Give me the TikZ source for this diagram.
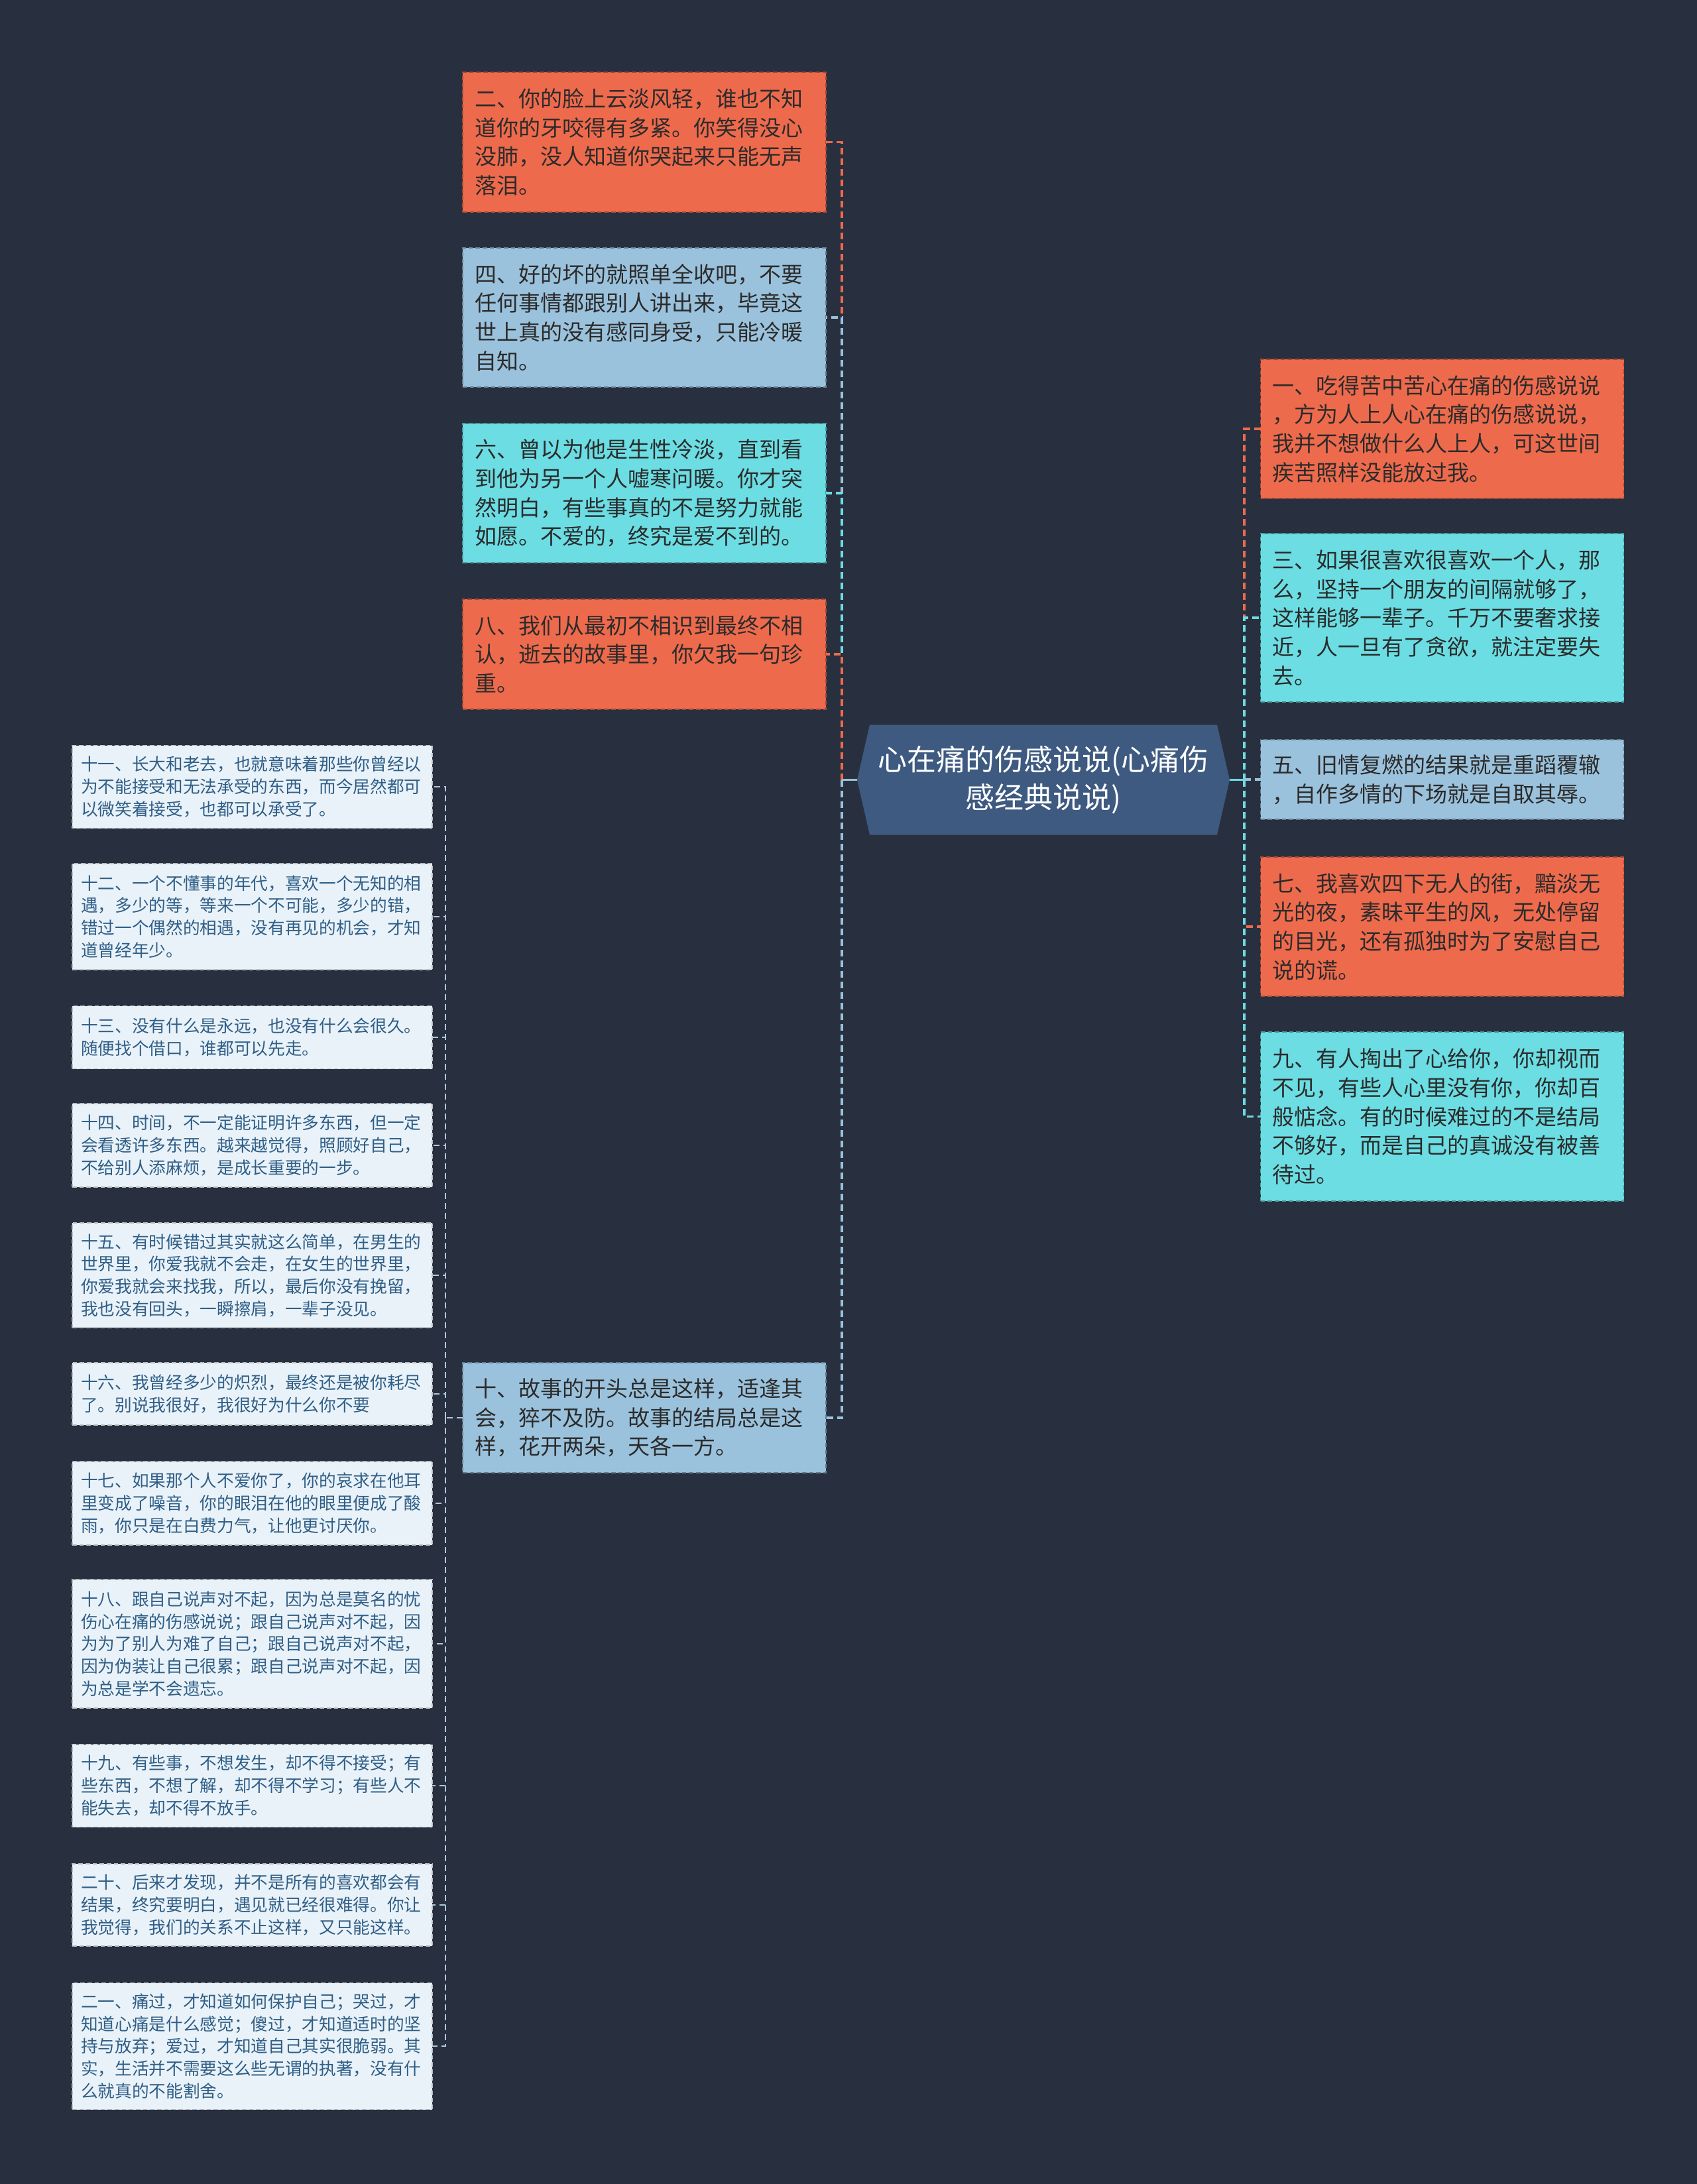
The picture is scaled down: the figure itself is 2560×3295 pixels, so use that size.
\documentclass[tikz,border=0pt]{standalone}
\usepackage{fontspec}
\setmainfont{Noto Sans CJK SC}
\usetikzlibrary{backgrounds}
\definecolor{bgc}{HTML}{28303F}
\definecolor{orc}{HTML}{EE6A4C}
\definecolor{lbc}{HTML}{9BC2DC}
\definecolor{cyc}{HTML}{6BDDE3}
\definecolor{rootc}{HTML}{3E5A80}
\definecolor{palec}{HTML}{E9F2F8}
\definecolor{paletext}{HTML}{2F5E87}
\definecolor{darktext}{HTML}{2B2B2B}
\definecolor{paleconn}{HTML}{B0C8DD}
\begin{document}
\begin{tikzpicture}[x=0.3pt,y=-0.3pt,
  box/.style={rectangle, dashed, dash pattern=on 2pt off 1.2pt, line width=0.5pt,
    inner ysep=0pt, inner xsep=5.4pt, align=left, outer sep=0pt},
  midbox/.style={box, text width=153.6pt, text=darktext, font=\fontsize{9.9pt}{13.1pt}\selectfont},
  orbox/.style={midbox, fill=orc, draw=orc!70!black},
  lbbox/.style={midbox, fill=lbc, draw=lbc!65!black},
  cybox/.style={midbox, fill=cyc, draw=cyc!70!black},
  leafbox/.style={box, fill=palec, draw=palec!55!gray, text=paletext, text width=155pt,
    inner xsep=4pt, font=\fontsize{7.7pt}{10.1pt}\selectfont},
  rootnode/.style={minimum width=168.6pt, minimum height=49.8pt, inner sep=0pt, outer sep=0pt,
    text=white, align=center, font=\fontsize{13.2pt}{17pt}\selectfont},
  conn/.style={dashed, dash pattern=on 3pt off 1.8pt, line width=1.1pt},
  stub/.style={line width=1.1pt},
  leafconn/.style={dashed, dash pattern=on 2.7pt off 1.8pt, line width=0.8pt, paleconn}]

\begin{scope}[on background layer]
\fill[bgc] (0,0) rectangle (2560,3295);
\end{scope}

% root
\node[rootnode] (root) at (1574,1176.5) {心在痛的伤感说说(心痛伤\\感经典说说)};
\begin{scope}[on background layer]
\fill[rootc] (root.west) -- ([xshift=5.7pt]root.north west) -- ([xshift=-5.7pt]root.north east)
  -- (root.east) -- ([xshift=-5.7pt]root.south east) -- ([xshift=5.7pt]root.south west) -- cycle;
\end{scope}
\path (root.west) ++(-23,0) coordinate (lj);
\path (root.east) ++(22,0) coordinate (rj);

% middle column
\node[orbox, minimum height=63.3pt] (n2) at (972,214.5) {二、你的脸上云淡风轻，谁也不知\\道你的牙咬得有多紧。你笑得没心\\没肺，没人知道你哭起来只能无声\\落泪。};
\node[lbbox, minimum height=63pt] (n4) at (972,479) {四、好的坏的就照单全收吧，不要\\任何事情都跟别人讲出来，毕竟这\\世上真的没有感同身受，只能冷暖\\自知。};
\node[cybox, minimum height=63pt] (n6) at (972,744) {六、曾以为他是生性冷淡，直到看\\到他为另一个人嘘寒问暖。你才突\\然明白，有些事真的不是努力就能\\如愿。不爱的，终究是爱不到的。};
\node[orbox, minimum height=49.8pt] (n8) at (972,987) {八、我们从最初不相识到最终不相\\认，逝去的故事里，你欠我一句珍\\重。};
\node[lbbox, minimum height=49.8pt] (n10) at (972,2139) {十、故事的开头总是这样，适逢其\\会，猝不及防。故事的结局总是这\\样，花开两朵，天各一方。};

% right column
\node[orbox, minimum height=63pt] (n1) at (2175.5,647) {一、吃得苦中苦心在痛的伤感说说\\，方为人上人心在痛的伤感说说，\\我并不想做什么人上人，可这世间\\疾苦照样没能放过我。};
\node[cybox, minimum height=76.2pt] (n3) at (2175.5,932) {三、如果很喜欢很喜欢一个人，那\\么，坚持一个朋友的间隔就够了，\\这样能够一辈子。千万不要奢求接\\近，人一旦有了贪欲，就注定要失\\去。};
\node[lbbox, minimum height=36pt] (n5) at (2175.5,1176) {五、旧情复燃的结果就是重蹈覆辙\\，自作多情的下场就是自取其辱。};
\node[orbox, minimum height=63pt] (n7) at (2175.5,1398) {七、我喜欢四下无人的街，黯淡无\\光的夜，素昧平生的风，无处停留\\的目光，还有孤独时为了安慰自己\\说的谎。};
\node[cybox, minimum height=76.5pt] (n9) at (2175.5,1684.5) {九、有人掏出了心给你，你却视而\\不见，有些人心里没有你，你却百\\般惦念。有的时候难过的不是结局\\不够好，而是自己的真诚没有被善\\待过。};

% far-left column
\node[leafbox, minimum height=37.5pt] (n11) at (380.5,1187) {十一、长大和老去，也就意味着那些你曾经以\\为不能接受和无法承受的东西，而今居然都可\\以微笑着接受，也都可以承受了。};
\node[leafbox, minimum height=48pt] (n12) at (380.5,1383) {十二、一个不懂事的年代，喜欢一个无知的相\\遇，多少的等，等来一个不可能，多少的错，\\错过一个偶然的相遇，没有再见的机会，才知\\道曾经年少。};
\node[leafbox, minimum height=28.5pt] (n13) at (380.5,1565) {十三、没有什么是永远，也没有什么会很久。\\随便找个借口，谁都可以先走。};
\node[leafbox, minimum height=37.8pt] (n14) at (380.5,1728) {十四、时间，不一定能证明许多东西，但一定\\会看透许多东西。越来越觉得，照顾好自己，\\不给别人添麻烦，是成长重要的一步。};
\node[leafbox, minimum height=47.4pt] (n15) at (380.5,1924) {十五、有时候错过其实就这么简单，在男生的\\世界里，你爱我就不会走，在女生的世界里，\\你爱我就会来找我，所以，最后你没有挽留，\\我也没有回头，一瞬擦肩，一辈子没见。};
\node[leafbox, minimum height=28.2pt] (n16) at (380.5,2103) {十六、我曾经多少的炽烈，最终还是被你耗尽\\了。别说我很好，我很好为什么你不要};
\node[leafbox, minimum height=37.8pt] (n17) at (380.5,2268) {十七、如果那个人不爱你了，你的哀求在他耳\\里变成了噪音，你的眼泪在他的眼里便成了酸\\雨，你只是在白费力气，让他更讨厌你。};
\node[leafbox, minimum height=58.2pt] (n18) at (380.5,2480) {十八、跟自己说声对不起，因为总是莫名的忧\\伤心在痛的伤感说说；跟自己说声对不起，因\\为为了别人为难了自己；跟自己说声对不起，\\因为伪装让自己很累；跟自己说声对不起，因\\为总是学不会遗忘。};
\node[leafbox, minimum height=37.5pt] (n19) at (380.5,2694) {十九、有些事，不想发生，却不得不接受；有\\些东西，不想了解，却不得不学习；有些人不\\能失去，却不得不放手。};
\node[leafbox, minimum height=37.2pt] (n20) at (380.5,2874) {二十、后来才发现，并不是所有的喜欢都会有\\结果，终究要明白，遇见就已经很难得。你让\\我觉得，我们的关系不止这样，又只能这样。};
\node[leafbox, minimum height=57.3pt] (n21) at (380.5,3087) {二一、痛过，才知道如何保护自己；哭过，才\\知道心痛是什么感觉；傻过，才知道适时的坚\\持与放弃；爱过，才知道自己其实很脆弱。其\\实，生活并不需要这么些无谓的执著，没有什\\么就真的不能割舍。};

% connectors: middle column (drawn in order, later ones on top)
\foreach \n/\c in {n2/orc,n4/lbc,n6/cyc,n8/orc,n10/lbc}{
  \draw[stub, \c] (root.west) -- (lj);
  \draw[conn, \c] (lj) |- (\n.east);
}

% connectors: right column
\foreach \n/\c in {n1/orc,n3/cyc,n5/lbc,n7/orc,n9/cyc}{
  \draw[stub, \c] (root.east) -- (rj);
  \draw[conn, \c] (rj) |- (\n.west);
}

% connectors: far-left column
\path (n10.west) ++(-26,0) coordinate (fj);
\foreach \n in {n11,n12,n13,n14,n15,n16,n17,n18,n19,n20,n21}{
  \draw[leafconn] (n10.west) -- (fj);
  \draw[leafconn] (fj) |- (\n.east);
}
\end{tikzpicture}
\end{document}
